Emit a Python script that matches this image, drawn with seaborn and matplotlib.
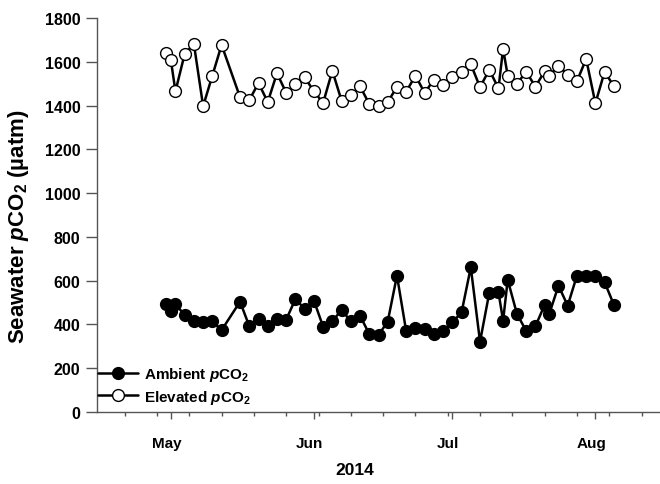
import matplotlib
matplotlib.use("Agg")
import matplotlib.pyplot as plt
import matplotlib.dates as mdates
import matplotlib.transforms as mtransforms
import pandas as pd
import seaborn as sns

# Sampling dates (2014)
dates = [
    "2014-04-30", "2014-05-01", "2014-05-02", "2014-05-04", "2014-05-06",
    "2014-05-08", "2014-05-10", "2014-05-12", "2014-05-16", "2014-05-18",
    "2014-05-20", "2014-05-22", "2014-05-24", "2014-05-26", "2014-05-28",
    "2014-05-30", "2014-06-01", "2014-06-03", "2014-06-05", "2014-06-07",
    "2014-06-09", "2014-06-11", "2014-06-13", "2014-06-15", "2014-06-17",
    "2014-06-19", "2014-06-21", "2014-06-23", "2014-06-25", "2014-06-27",
    "2014-06-29", "2014-07-01", "2014-07-03", "2014-07-05", "2014-07-07",
    "2014-07-09", "2014-07-11", "2014-07-12", "2014-07-13", "2014-07-15",
    "2014-07-17", "2014-07-19", "2014-07-21", "2014-07-22", "2014-07-24",
    "2014-07-26", "2014-07-28", "2014-07-30", "2014-08-01", "2014-08-03",
    "2014-08-05",
]

# Seawater pCO2 (uatm)
ambient = [
    493, 460, 493, 443, 417, 413, 414, 374, 504, 392,
    425, 394, 425, 422, 516, 471, 509, 390, 414, 467,
    414, 440, 356, 352, 413, 623, 369, 382, 379, 356,
    371, 410, 455, 661, 321, 544, 547, 417, 604, 448,
    371, 392, 489, 448, 577, 486, 623, 623, 623, 593,
    490,
]
elevated = [
    1640, 1608, 1465, 1636, 1681, 1397, 1537, 1677, 1438, 1425,
    1503, 1416, 1548, 1458, 1499, 1529, 1465, 1412, 1559, 1422,
    1448, 1488, 1407, 1399, 1415, 1486, 1463, 1537, 1458, 1518,
    1494, 1529, 1555, 1589, 1484, 1563, 1479, 1659, 1537, 1499,
    1555, 1486, 1557, 1537, 1582, 1541, 1511, 1613, 1410, 1555,
    1488,
]

month_ticks = ["May", "Jun", "Jul", "Aug"]
y_ticks = list(range(0, 1801, 200))

df = pd.DataFrame({
    "date": pd.to_datetime(dates),
    "ambient": ambient,
    "elevated": elevated,
})

sns.set_theme(style="ticks")
plt.rcParams.update({
    "font.family": ["Liberation Sans", "DejaVu Sans"],
    "font.weight": "bold",
    "text.color": "black",
    "axes.labelcolor": "black",
    "xtick.labelcolor": "black",
    "ytick.labelcolor": "black",
    "mathtext.fontset": "custom",
    "mathtext.rm": "Liberation Sans:bold",
    "mathtext.it": "Liberation Sans:italic:bold",
    "mathtext.bf": "Liberation Sans:bold",
})

W, H = 660, 485
fig = plt.figure(figsize=(W / 100, H / 100), dpi=100)
ax = fig.add_axes([97 / W, 1 - 413 / H, 563 / W, 394 / H])

common = dict(ax=ax, color="black", linewidth=1.8, marker="o", markersize=8.5,
              markeredgecolor="black", markeredgewidth=1.0, estimator=None)
sns.lineplot(data=df, x="date", y="ambient", markerfacecolor="black",
             label=r"Ambient $p$CO$_2$", **common)
sns.lineplot(data=df, x="date", y="elevated", markerfacecolor="white",
             label=r"Elevated $p$CO$_2$", **common)

ax.set_xlim(pd.Timestamp("2014-04-15"), pd.Timestamp("2014-08-15"))
ax.set_ylim(0, 1800)
ax.set_yticks(y_ticks)
ax.set_yticklabels([str(v) for v in y_ticks])

ax.xaxis.set_major_locator(mdates.MonthLocator())
ax.xaxis.set_major_formatter(mdates.DateFormatter("%b"))
ax.xaxis.set_minor_locator(mdates.WeekdayLocator(byweekday=mdates.MO))

axis_col = "#555555"
for side in ("top", "right"):
    ax.spines[side].set_visible(False)
for side in ("left", "bottom"):
    ax.spines[side].set_color(axis_col)
    ax.spines[side].set_linewidth(1.0)

ax.tick_params(axis="x", which="major", length=5, width=1, pad=12,
               labelsize=11, color=axis_col, labelcolor="black")
ax.tick_params(axis="x", which="minor", length=3, width=1, color=axis_col)
ax.tick_params(axis="y", which="major", length=8, width=1, pad=4,
               labelsize=11.5, color=axis_col, labelcolor="black")

offset = mtransforms.ScaledTranslation(-4 / 100, 0, fig.dpi_scale_trans)
for lbl in ax.get_xticklabels():
    lbl.set_transform(lbl.get_transform() + offset)

ax.set_xlabel("2014", fontsize=12.5, fontweight="bold", color="black")
ax.xaxis.set_label_coords(0.458, -0.126)
ax.set_ylabel(r"Seawater $p$CO$_2$ (µatm)", fontsize=16, fontweight="bold",
              color="black")
ax.yaxis.set_label_coords(-0.118, 0.472)

leg = ax.legend(loc="lower left", bbox_to_anchor=(-0.004, 0.008), frameon=False,
                fontsize=11, handlelength=2.6, handletextpad=0.45,
                labelspacing=0.3, borderaxespad=0.0, borderpad=0.2)
for t in leg.get_texts():
    t.set_color("black")

fig.savefig("out.png", dpi=100)
